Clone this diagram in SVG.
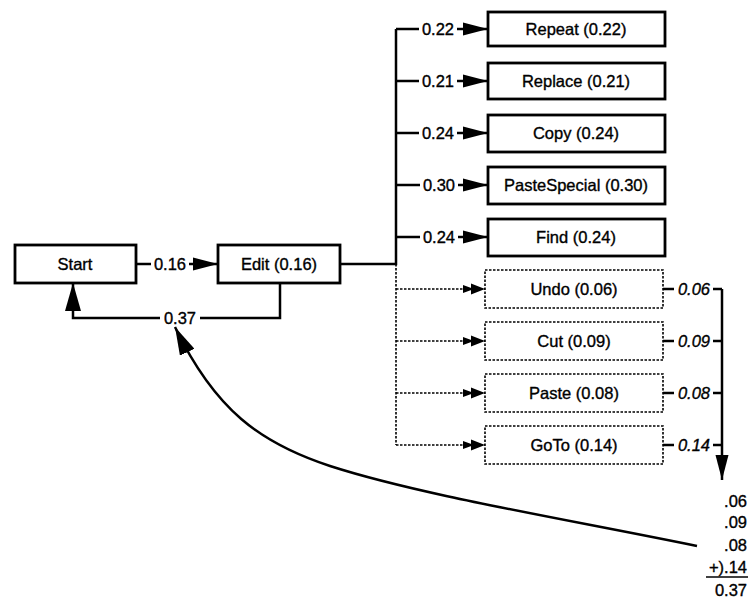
<svg xmlns="http://www.w3.org/2000/svg" width="752" height="599" viewBox="0 0 752 599">
<style>
text{font-family:"Liberation Sans",Arial,sans-serif;font-size:16.5px;fill:#000;stroke:#000;stroke-width:0.35}
.c{text-anchor:middle}
.i{font-style:italic}
.r{text-anchor:end}
.box{fill:#fff;stroke:#000;stroke-width:2.8}
.dbox{fill:#fff;stroke:#000;stroke-width:1.6;stroke-dasharray:2.5 1.5}
.ln{fill:none;stroke:#000;stroke-width:2.5}
.dl{fill:none;stroke:#000;stroke-width:1.6;stroke-dasharray:2.5 1.5}
</style>
<defs>
<marker id="a" markerUnits="userSpaceOnUse" viewBox="0 0 25 14" refX="25" refY="7" markerWidth="25" markerHeight="14" orient="auto"><path d="M0,0.5 L25,7 L0,13.5z" fill="#000"/></marker>
<marker id="b" markerUnits="userSpaceOnUse" viewBox="0 0 28 16" refX="28" refY="8" markerWidth="28" markerHeight="16" orient="auto"><path d="M0,0 L28,8 L0,16z" fill="#000"/></marker>
<marker id="d" markerUnits="userSpaceOnUse" viewBox="0 0 22 12" refX="22" refY="6" markerWidth="22" markerHeight="12" orient="auto"><path d="M0,2 L11,6 L0,10z M8,0.5 L22,6 L8,11.5z" fill="#000"/></marker>
</defs>
<g id="connectors">
<path class="ln" d="M136,264 H151"/>
<path class="ln" d="M189,264 H218" marker-end="url(#a)"/>
<path class="ln" d="M340,264 H396 V29"/>
<path class="ln" d="M280,283 V318 H200"/>
<path class="ln" d="M160,318 H73 V283" marker-end="url(#b)"/>
<text class="c" x="170" y="270">0.16</text>
<text class="c" x="180" y="324">0.37</text>
<path class="ln" d="M396,29 H419 M396,81 H419 M396,133 H419 M396,185 H420 M396,237 H420"/>
<path class="ln" d="M457,29 H488" marker-end="url(#a)"/>
<path class="ln" d="M457,81 H488" marker-end="url(#a)"/>
<path class="ln" d="M457,133 H488" marker-end="url(#a)"/>
<path class="ln" d="M458,185 H488" marker-end="url(#a)"/>
<path class="ln" d="M458,237 H488" marker-end="url(#a)"/>
<text class="c" x="438" y="35">0.22</text>
<text class="c" x="438" y="87">0.21</text>
<text class="c" x="438" y="139">0.24</text>
<text class="c" x="439" y="191">0.30</text>
<text class="c" x="439" y="243">0.24</text>
<path class="dl" d="M396,264 V445"/>
<path class="dl" d="M396,289 H485" marker-end="url(#d)"/>
<path class="dl" d="M396,341 H485" marker-end="url(#d)"/>
<path class="dl" d="M396,393 H485" marker-end="url(#d)"/>
<path class="dl" d="M396,445 H485" marker-end="url(#d)"/>
<path class="ln" d="M663,289 H674 M663,341 H674 M663,393 H674 M663,445 H674" stroke-width="2"/>
<path class="ln" d="M713,289 H722 M713,341 H722 M713,393 H722 M713,445 H722" stroke-width="2"/>
<path class="ln" d="M722,289 V480" stroke-width="2" marker-end="url(#a)"/>
<text class="c i" x="694" y="295">0.06</text>
<text class="c i" x="694" y="347">0.09</text>
<text class="c i" x="694" y="399">0.08</text>
<text class="c i" x="694" y="451">0.14</text>
<path class="ln" d="M697,546 C560,518 420,495 330,466 C260,443 215,410 175,327" stroke-width="2.2" marker-end="url(#b)"/>
</g>
<g id="sum">
<text class="r" x="747" y="507">.06</text>
<text class="r" x="747" y="528">.09</text>
<text class="r" x="747" y="551">.08</text>
<text class="r" x="747" y="573">+).14</text>
<path d="M706,577 H748" stroke="#000" stroke-width="1.5"/>
<text class="r" x="747" y="596">0.37</text>
</g>
<g id="start"><rect class="box" x="15" y="245" width="121" height="38"/><text class="c" x="75" y="270">Start</text></g>
<g id="edit"><rect class="box" x="218" y="245" width="122" height="38"/><text class="c" x="279" y="270">Edit (0.16)</text></g>
<g id="repeat"><rect class="box" x="488" y="12" width="177" height="34"/><text class="c" x="576" y="35">Repeat (0.22)</text></g>
<g id="replace"><rect class="box" x="488" y="63" width="177" height="36"/><text class="c" x="576" y="87">Replace (0.21)</text></g>
<g id="copy"><rect class="box" x="488" y="115" width="177" height="37"/><text class="c" x="576" y="139">Copy (0.24)</text></g>
<g id="pastespecial"><rect class="box" x="488" y="167" width="177" height="37"/><text class="c" x="576" y="191">PasteSpecial (0.30)</text></g>
<g id="find"><rect class="box" x="488" y="219" width="177" height="37"/><text class="c" x="576" y="243">Find (0.24)</text></g>
<g id="undo"><rect class="dbox" x="485" y="270" width="178" height="38"/><text class="c" x="574" y="295">Undo (0.06)</text></g>
<g id="cut"><rect class="dbox" x="485" y="322" width="178" height="38"/><text class="c" x="574" y="347">Cut (0.09)</text></g>
<g id="paste"><rect class="dbox" x="485" y="374" width="178" height="38"/><text class="c" x="574" y="399">Paste (0.08)</text></g>
<g id="goto"><rect class="dbox" x="485" y="426" width="178" height="38"/><text class="c" x="574" y="451">GoTo (0.14)</text></g>
</svg>
